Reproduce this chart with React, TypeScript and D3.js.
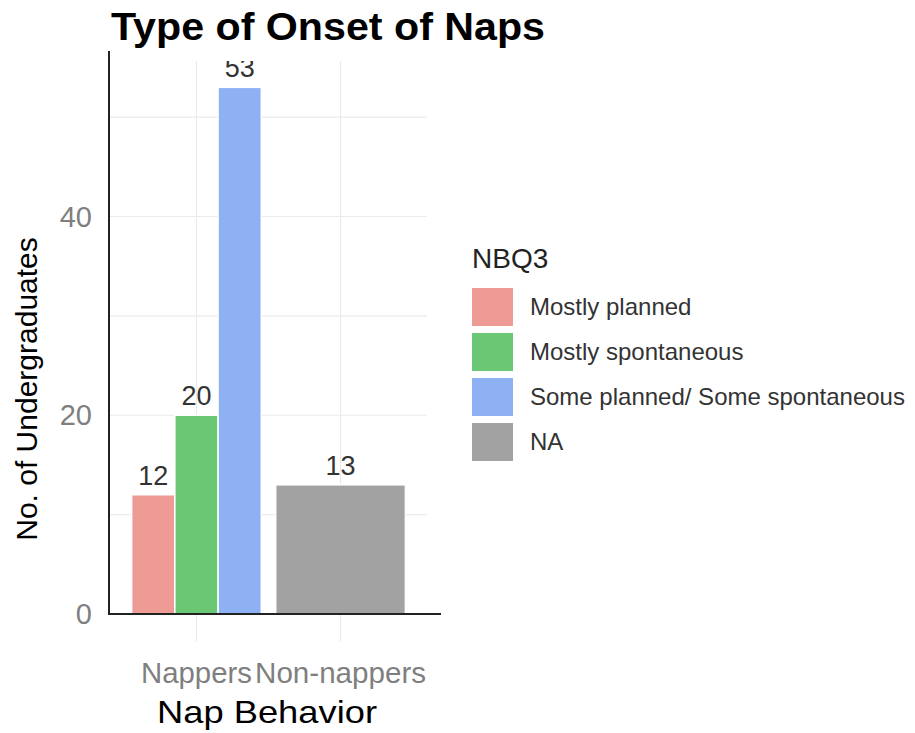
import React from "react";
import * as d3 from "d3";

const categories = ["Nappers", "Non-nappers"];
const groups = ["Mostly planned", "Mostly spontaneous", "Some planned/ Some spontaneous", "NA"];
const groupColors = ["#EE9B96", "#6CC775", "#8DB1F3", "#A2A2A2"];
const barBehavior = ["Nappers", "Nappers", "Nappers", "Non-nappers"];
const barGroup = ["Mostly planned", "Mostly spontaneous", "Some planned/ Some spontaneous", "NA"];
const barCount = [12, 20, 53, 13];
const yTicks = [0, 20, 40];
const yMinor = [10, 30, 50];

const W = 915;
const H = 733;
const FONT = "'Liberation Sans', Arial, Helvetica, sans-serif";

export default function App() {
  const panelL = 110, panelR = 427, panelT = 61, zeroY = 614;
  const maxV = d3.max(barCount)! * 1.05;
  const y = d3.scaleLinear().domain([0, maxV]).range([zeroY, panelT]);
  const panelB = y(-maxV * 0.05);
  const x = d3.scalePoint<string>().domain(categories).range([panelL, panelR]).padding(0.6);
  const step = x.step();
  const color = d3.scaleOrdinal<string, string>().domain(groups).range(groupColors);

  const bars = barCount.map((v, i) => {
    const cat = barBehavior[i];
    const members = barBehavior.map((b, j) => (b === cat ? j : -1)).filter((j) => j >= 0);
    const n = members.length;
    const k = members.indexOf(i);
    const total = 0.9 * step;
    const w = total / n;
    const x0 = (x(cat) as number) - total / 2 + k * w;
    return { v, x0, w, group: barGroup[i] };
  });

  const tickLen = [111, 171];

  return (
    <svg width={W} height={H} style={{ position: "absolute", left: 0, top: 0, background: "#fff" }} fontFamily={FONT}>
      <defs>
        <clipPath id="panelClip">
          <rect x={panelL - 20} y={panelT} width={panelR - panelL + 40} height={panelB - panelT} />
        </clipPath>
      </defs>
      {[...yMinor, ...yTicks].map((t) => (
        <line key={"h" + t} x1={panelL} x2={panelR} y1={y(t)} y2={y(t)} stroke="#EBEBEB" strokeWidth={1.2} />
      ))}
      {categories.map((c) => (
        <line key={"v" + c} x1={x(c)} x2={x(c)} y1={panelT} y2={panelB} stroke="#EBEBEB" strokeWidth={1.2} />
      ))}
      <g clipPath="url(#panelClip)">
        {bars.map((b, i) => (
          <rect key={i} x={b.x0} y={y(b.v)} width={b.w} height={zeroY - y(b.v)} fill={color(b.group)} stroke="#fff" strokeWidth={1.5} />
        ))}
        {bars.map((b, i) => (
          <text key={"l" + i} x={b.x0 + b.w / 2} y={y(b.v) - 10} textAnchor="middle" fontSize={27} fill="#333">
            {b.v}
          </text>
        ))}
      </g>
      <line x1={109} x2={109} y1={51} y2={zeroY} stroke="#222" strokeWidth={2} />
      <line x1={108} x2={441} y1={zeroY} y2={zeroY} stroke="#222" strokeWidth={2} />
      {yTicks.map((t) => (
        <text key={"yt" + t} x={92} y={y(t) + 10} textAnchor="end" fontSize={29} fill="#7f7f7f">
          {t}
        </text>
      ))}
      {categories.map((c, i) => (
        <text key={"xt" + c} x={x(c)} y={683} textAnchor="middle" fontSize={30} fill="#7f7f7f" textLength={tickLen[i]} lengthAdjust="spacingAndGlyphs">
          {c}
        </text>
      ))}
      <text x={111} y={40} fontSize={38} fontWeight="bold" fill="#000" textLength={434} lengthAdjust="spacingAndGlyphs">
        Type of Onset of Naps
      </text>
      <text x={157} y={723} fontSize={32} fill="#000" textLength={220} lengthAdjust="spacingAndGlyphs">
        Nap Behavior
      </text>
      <text transform={`translate(37,389) rotate(-90)`} textAnchor="middle" fontSize={30} fill="#000">
        No. of Undergraduates
      </text>
      <text x={472} y={268} fontSize={28} fill="#222">NBQ3</text>
      {groups.map((g, i) => (
        <g key={"lg" + i}>
          <rect x={472} y={288 + i * 45} width={41} height={38} fill={color(g)} />
          <text x={530} y={307 + i * 45 + 8} fontSize={24} fill="#333">
            {g}
          </text>
        </g>
      ))}
    </svg>
  );
}
